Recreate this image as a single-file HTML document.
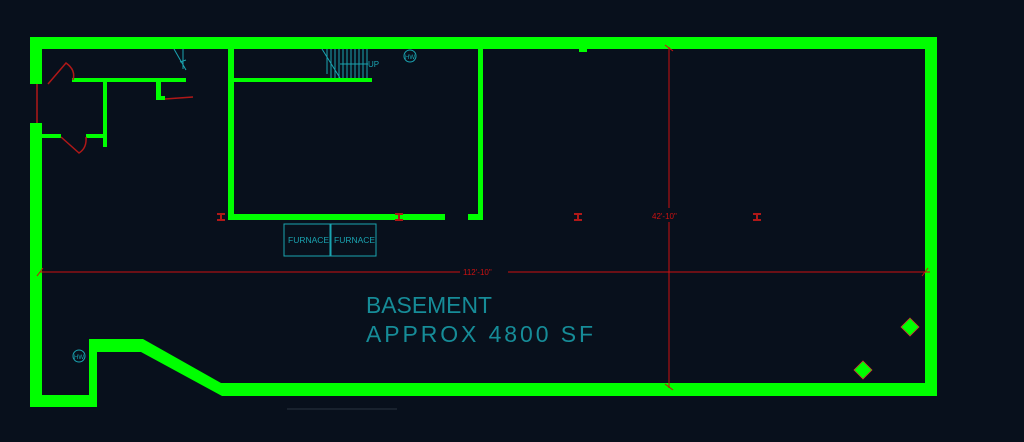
<!DOCTYPE html>
<html><head><style>html,body{margin:0;padding:0;background:#08101c;}</style></head>
<body>
<svg width="1024" height="442" viewBox="0 0 1024 442" xmlns="http://www.w3.org/2000/svg" style="display:block">
<defs>
<g id="ib"><rect x="-4" y="-4" width="8" height="2"/><rect x="-1" y="-4" width="2" height="8"/><rect x="-4" y="2" width="8" height="2"/></g>
</defs>
<rect width="1024" height="442" fill="#08101c"/>
<g fill="#00ff00">
<rect x="30" y="37" width="907" height="12"/>
<rect x="925" y="37" width="12" height="359"/>
<rect x="30" y="37" width="12" height="47"/>
<rect x="30" y="123" width="12" height="284"/>
<rect x="30" y="395" width="67" height="12"/>
<rect x="89" y="339" width="8" height="68"/>
<polygon points="89,339 143,339 221,383 937,383 937,396 222,396 141,352 89,352"/>
<rect x="228" y="49" width="6" height="171"/>
<rect x="228" y="214" width="217" height="6"/>
<rect x="468" y="214" width="15" height="6"/>
<rect x="478" y="49" width="5" height="171"/>
<rect x="234" y="78" width="138" height="4"/>
<rect x="72" y="78" width="114" height="4"/>
<rect x="103" y="80" width="4" height="67"/>
<rect x="42" y="134" width="19" height="4"/>
<rect x="86" y="134" width="21" height="4"/>
<rect x="156" y="80" width="5" height="20"/>
<rect x="156" y="96" width="9" height="4"/>
<rect x="579" y="48" width="8" height="4"/>
<polygon points="910,318 919,327 910,336 901,327" stroke="#c33" stroke-width="0.8"/>
<polygon points="863,361 872,370 863,379 854,370" stroke="#c33" stroke-width="0.8"/>
</g>
<g stroke="#b01818" stroke-width="1.5" fill="none">
<path d="M48,84 L66,63 Q76,70 73,80"/>
<path d="M37,84 L37,123"/>
<path d="M61,137 L79,153 Q87,148 86,137"/>
<path d="M165,99 L193,97"/>
</g>
<g stroke="#cc1111" stroke-width="1" fill="none">
<line x1="40" y1="272" x2="460" y2="272"/>
<line x1="508" y1="272" x2="930" y2="272"/>
<line x1="669" y1="47" x2="669" y2="208"/>
<line x1="669" y1="222" x2="669" y2="388"/>
<path d="M37,276 L43,268 M922,276 L928,268 M665,45 L673,51 M665,384 L673,390"/>
</g>
<g fill="#cc1111" font-family="Liberation Sans, sans-serif" font-size="8">
<text x="463" y="275">112'-10"</text>
<text x="652" y="219">42'-10"</text>
</g>
<g fill="#b01818">
<use href="#ib" x="221" y="217"/><use href="#ib" x="399" y="217"/><use href="#ib" x="578" y="217"/><use href="#ib" x="757" y="217"/>
</g>
<g stroke="#1aa3b0" fill="none" stroke-width="1">
<rect x="284" y="224" width="46" height="32"/>
<rect x="331" y="224" width="45" height="32"/>
<circle cx="410" cy="56" r="6"/>
<circle cx="79" cy="356" r="6"/>
<path d="M322,49 L340,78 M327,49v25 M331,49v29 M335,49v29 M339,49v29 M343,49v29 M347,49v29 M351,49v29 M355,49v29 M359,49v29 M363,49v29 M367,49v29 M340,64 L368,64"/>
<path d="M174,49 L186,70 M183,49v20 M180,62 L186,60"/>
</g>
<g fill="#1aa3b0" font-family="Liberation Sans, sans-serif">
<text x="288" y="243" font-size="8.5">FURNACE</text>
<text x="334" y="243" font-size="8.5">FURNACE</text>
<text x="368" y="67" font-size="8">UP</text>
<text x="405" y="59" font-size="6">HW</text>
<text x="74" y="359" font-size="6">HW</text>
</g>
<g fill="#168c98" font-family="Liberation Sans, sans-serif">
<text x="366" y="313" font-size="23" textLength="126" lengthAdjust="spacingAndGlyphs">BASEMENT</text>
<text x="366" y="342" font-size="23" textLength="227" lengthAdjust="spacing">APPROX  4800  SF</text>
</g>
<line x1="287" y1="409" x2="397" y2="409" stroke="#2a3340" stroke-width="1"/>
</svg>
</body></html>
